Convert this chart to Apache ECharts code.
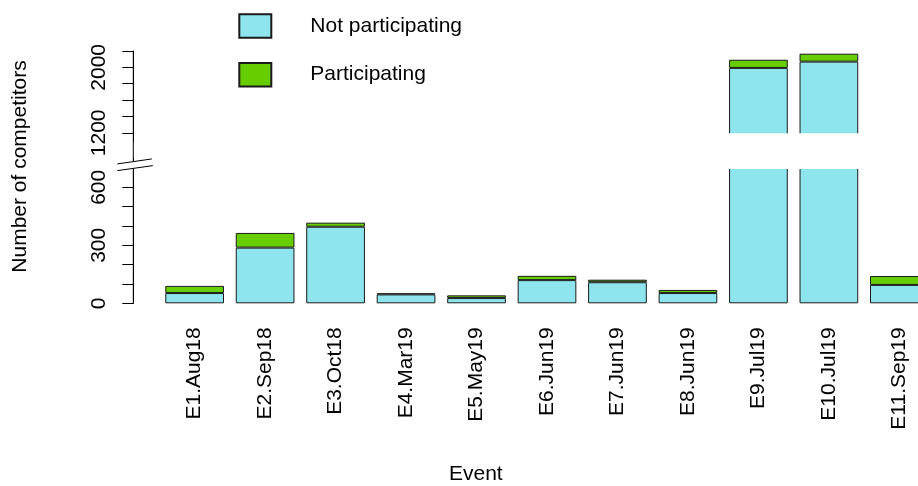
<!DOCTYPE html>
<html>
<head>
<meta charset="utf-8">
<script src="https://cdn.jsdelivr.net/npm/echarts@6/dist/echarts.min.js"></script>
<style>
  html, body { margin: 0; padding: 0; background: #fff; }
  #chart { width: 918px; height: 486px; }
</style>
</head>
<body>
<div id="chart"></div>
<script>
// ---- data ----
var categories = ['E1.Aug18', 'E2.Sep18', 'E3.Oct18', 'E4.Mar19', 'E5.May19', 'E6.Jun19',
                  'E7.Jun19', 'E8.Jun19', 'E9.Jul19', 'E10.Jul19', 'E11.Sep19'];
var notParticipating = [53, 288, 396, 46, 27, 120, 109, 53, 1993, 2070, 95];
var participating    = [37, 76, 21, 6, 14, 22, 13, 16, 100, 97, 46];
var seriesNames = ['Not participating', 'Participating'];
var lowerTicks = [0, 100, 200, 300, 400, 500, 600];
var lowerLabels = [0, 300, 600];
var upperTicks = [1200, 1400, 1600, 1800, 2000, 2200];
var upperLabels = [1200, 2000];
var lowerVisibleMax = 695;   // top of the lower segment (break)
var upperVisibleMin = 1200;  // bottom of the upper segment (break)

// ---- style / layout ----
var FONT = 'Liberation Sans, Arial, sans-serif';
var FS = 21;
var BLUE = '#8EE5EE', GREEN = '#66CD00', EDGE = '#1a1a1a';
var GRID_LEFT = 159.4, GRID_W = 775.2;
var AXIS_OFFSET = 26.1;

var upperNot = notParticipating.map(function (v, i) { return v + participating[i] > upperVisibleMin ? v : '-'; });
var upperPart = participating.map(function (v, i) { return notParticipating[i] + v > upperVisibleMin ? v : '-'; });

function barSeries(name, data, gi, stack, color) {
  return {
    name: name, type: 'bar', stack: stack, data: data,
    xAxisIndex: gi, yAxisIndex: gi, barWidth: 58.7,
    itemStyle: { color: color, borderColor: EDGE, borderWidth: 1 },
    emphasis: { disabled: true }, animation: false, clip: true
  };
}

function yAxisCfg(min, max, ticks, labels) {
  return {
    type: 'value', min: min, max: max, offset: AXIS_OFFSET,
    axisLine: { show: true, lineStyle: { color: '#000', width: 1 } },
    axisTick: { show: true, length: 11, customValues: ticks, lineStyle: { color: '#000' } },
    axisLabel: { customValues: labels, rotate: 90, margin: 24, fontSize: FS, fontFamily: FONT, color: '#000',
                 formatter: function (v) { return String(v); } },
    splitLine: { show: false }
  };
}

var chart = echarts.init(document.getElementById('chart'), null, { renderer: 'canvas' });
var option = {
  animation: false,
  backgroundColor: '#fff',
  grid: [
    { left: GRID_LEFT, width: GRID_W, top: 51, height: 90, outerBoundsMode: 'none', containLabel: false },
    { left: GRID_LEFT, width: GRID_W, top: 158.3, height: 145, outerBoundsMode: 'none', containLabel: false }
  ],
  xAxis: [
    { type: 'category', gridIndex: 0, data: categories, show: false },
    { type: 'category', gridIndex: 1, data: categories,
      axisLine: { show: false }, axisTick: { show: false },
      axisLabel: { interval: 0, rotate: 90, margin: 24, fontSize: FS, fontFamily: FONT, color: '#000' } }
  ],
  yAxis: [
    Object.assign({ gridIndex: 0 }, yAxisCfg(1100, 2200, upperTicks, upperLabels)),
    Object.assign({ gridIndex: 1 }, yAxisCfg(0, 750, lowerTicks, lowerLabels))
  ],
  legend: {
    orient: 'vertical', left: 238.3, top: 13.3, padding: 0,
    itemWidth: 32, itemHeight: 23.4, itemGap: 23.3, icon: 'rect',
    data: seriesNames, selectedMode: false,
    textStyle: { fontSize: FS, fontFamily: FONT, color: '#000', padding: [0, 0, 0, 34] }
  },
  series: [
    barSeries(seriesNames[0], upperNot, 0, 'u', BLUE),
    barSeries(seriesNames[1], upperPart, 0, 'u', GREEN),
    barSeries(seriesNames[0], notParticipating, 1, 'l', BLUE),
    barSeries(seriesNames[1], participating, 1, 'l', GREEN)
  ]
};
chart.setOption(option);

// decorations: gap cover, axis continuation, break marks, axis titles
var yTopCut = chart.convertToPixel({ yAxisIndex: 0 }, upperVisibleMin);
var yBotCut = chart.convertToPixel({ yAxisIndex: 1 }, lowerVisibleMax);
var axisX = GRID_LEFT - AXIS_OFFSET;
var upperTopY = chart.convertToPixel({ yAxisIndex: 0 }, 2200);
var zeroY = chart.convertToPixel({ yAxisIndex: 1 }, 0);
var b = yBotCut;
chart.setOption({
  graphic: [
    { type: 'rect', z: 50, silent: true,
      shape: { x: axisX + 10, y: yTopCut + 0.5, width: 918, height: yBotCut - yTopCut - 0.5 },
      style: { fill: '#fff' } },
    { type: 'line', z: 51, silent: true,
      shape: { x1: axisX, y1: upperTopY, x2: axisX, y2: zeroY },
      style: { stroke: '#000', lineWidth: 1 } },
    { type: 'polygon', z: 52, silent: true,
      shape: { points: [[axisX - 16, b - 5], [axisX + 18.5, b - 10], [axisX + 19.5, b - 3.3], [axisX - 16, b + 1.7]] },
      style: { fill: '#fff' } },
    { type: 'line', z: 53, silent: true,
      shape: { x1: axisX - 16, y1: b - 5, x2: axisX + 18.5, y2: b - 10 },
      style: { stroke: '#000', lineWidth: 1 } },
    { type: 'line', z: 53, silent: true,
      shape: { x1: axisX - 16, y1: b + 1.7, x2: axisX + 19.5, y2: b - 3.3 },
      style: { stroke: '#000', lineWidth: 1 } },
    { type: 'text', z: 60, silent: true, x: 20, y: 166.5, rotation: Math.PI / 2,
      style: { text: 'Number of competitors', fontSize: FS, fontFamily: FONT, fill: '#000', align: 'center', verticalAlign: 'middle' } },
    { type: 'text', z: 60, silent: true, x: 475.8, y: 474,
      style: { text: 'Event', fontSize: FS, fontFamily: FONT, fill: '#000', align: 'center', verticalAlign: 'middle' } }
  ]
});
</script>
</body>
</html>
